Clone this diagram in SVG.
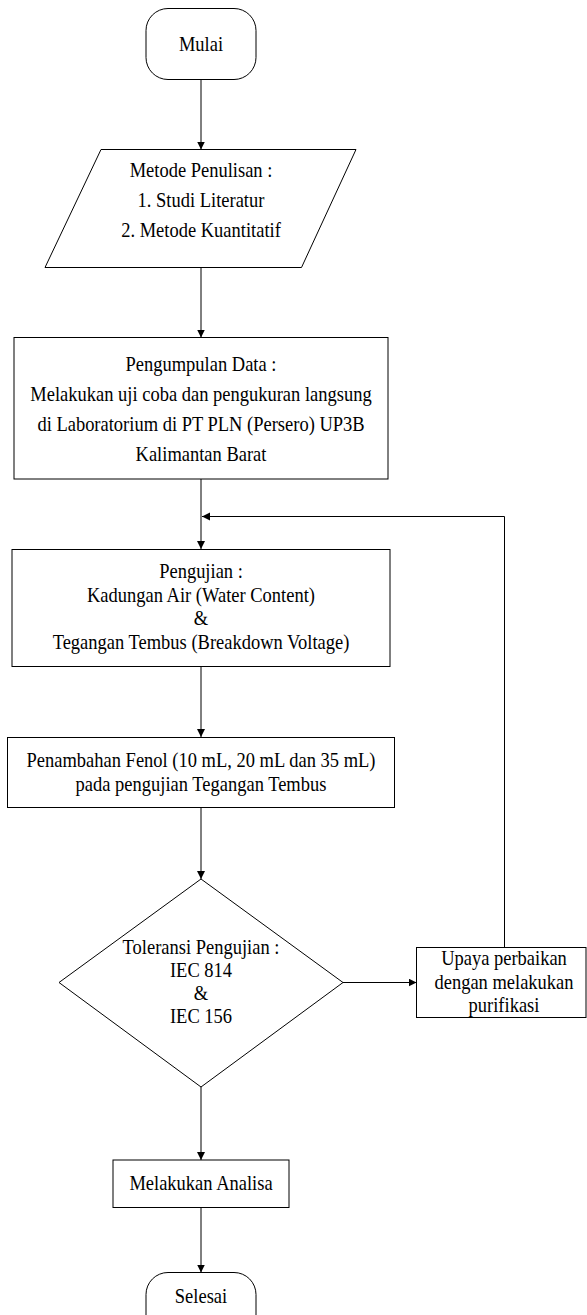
<svg xmlns="http://www.w3.org/2000/svg" width="587" height="1315" viewBox="0 0 587 1315">
<style>
.s{fill:#fff;stroke:#000;stroke-width:1}
.c{fill:none;stroke:#000;stroke-width:1}
text{font-family:"Liberation Serif","Times New Roman",serif;font-size:18.5px;fill:#000;text-anchor:middle}
</style>
<defs>
<marker id="ah" markerUnits="userSpaceOnUse" markerWidth="9" markerHeight="9" refX="8" refY="4" orient="auto">
<path d="M0,0 L8,4 L0,8 z" fill="#000"/>
</marker>
</defs>
<rect width="587" height="1315" fill="#fff"/>
<g id="connectors">
<line class="c" x1="201" y1="79" x2="201" y2="149.5" marker-end="url(#ah)"/>
<line class="c" x1="201" y1="267.5" x2="201" y2="337.5" marker-end="url(#ah)"/>
<line class="c" x1="201" y1="479" x2="201" y2="549" marker-end="url(#ah)"/>
<line class="c" x1="201" y1="667" x2="201" y2="737" marker-end="url(#ah)"/>
<line class="c" x1="201" y1="808" x2="201" y2="879" marker-end="url(#ah)"/>
<line class="c" x1="343" y1="982.5" x2="416.5" y2="982.5" marker-end="url(#ah)"/>
<polyline class="c" points="504.5,947.5 504.5,516.5 202,516.5" marker-end="url(#ah)"/>
<line class="c" x1="201" y1="1087" x2="201" y2="1160" marker-end="url(#ah)"/>
<line class="c" x1="201" y1="1207.5" x2="201" y2="1272.5" marker-end="url(#ah)"/>
</g>
<g id="mulai">
<rect class="s" x="146" y="8.5" width="110" height="71" rx="22" ry="22"/>
<text transform="translate(201,51) scale(1,1.12)">Mulai</text>
</g>
<g id="metode">
<polygon class="s" points="101,149.5 356,149.5 301.5,267.5 45,267.5"/>
<text transform="translate(201,177) scale(1,1.12)">Metode Penulisan :</text>
<text transform="translate(201,207) scale(1,1.12)">1. Studi Literatur</text>
<text transform="translate(201,237) scale(1,1.12)">2. Metode Kuantitatif</text>
</g>
<g id="pengumpulan">
<rect class="s" x="14" y="337.5" width="374" height="141.5"/>
<text transform="translate(201,371) scale(1,1.12)">Pengumpulan Data :</text>
<text transform="translate(201,401) scale(1,1.12)">Melakukan uji coba dan pengukuran langsung</text>
<text transform="translate(201,431) scale(1,1.12)">di Laboratorium di PT PLN (Persero) UP3B</text>
<text transform="translate(201,461) scale(1,1.12)">Kalimantan Barat</text>
</g>
<g id="pengujian">
<rect class="s" x="12" y="549.5" width="378" height="117"/>
<text transform="translate(201,578) scale(1,1.12)">Pengujian :</text>
<text transform="translate(201,602) scale(1,1.12)">Kadungan Air (Water Content)</text>
<text transform="translate(201,625) scale(1,1.12)">&amp;</text>
<text transform="translate(201,649) scale(1,1.12)">Tegangan Tembus (Breakdown Voltage)</text>
</g>
<g id="penambahan">
<rect class="s" x="7.5" y="737.5" width="387" height="70"/>
<text transform="translate(201,767) scale(1,1.12)">Penambahan Fenol (10 mL, 20 mL dan 35 mL)</text>
<text transform="translate(201,791) scale(1,1.12)">pada pengujian Tegangan Tembus</text>
</g>
<g id="toleransi">
<polygon class="s" points="201,879 343,982.5 201,1087 59,982.5"/>
<text transform="translate(201,954) scale(1,1.12)">Toleransi Pengujian :</text>
<text transform="translate(201,977) scale(1,1.12)">IEC 814</text>
<text transform="translate(201,1000) scale(1,1.12)">&amp;</text>
<text transform="translate(201,1023) scale(1,1.12)">IEC 156</text>
</g>
<g id="upaya">
<rect class="s" x="416.5" y="947.5" width="169.5" height="70"/>
<text transform="translate(504,965) scale(1,1.12)">Upaya perbaikan</text>
<text transform="translate(504,989) scale(1,1.12)">dengan melakukan</text>
<text transform="translate(504,1012) scale(1,1.12)">purifikasi</text>
</g>
<g id="analisa">
<rect class="s" x="113" y="1160" width="176" height="47.5"/>
<text transform="translate(201,1189.5) scale(1,1.12)">Melakukan Analisa</text>
</g>
<g id="selesai">
<rect class="s" x="146" y="1272.5" width="110" height="71" rx="22" ry="22"/>
<text transform="translate(201,1303) scale(1,1.12)">Selesai</text>
</g>
</svg>
